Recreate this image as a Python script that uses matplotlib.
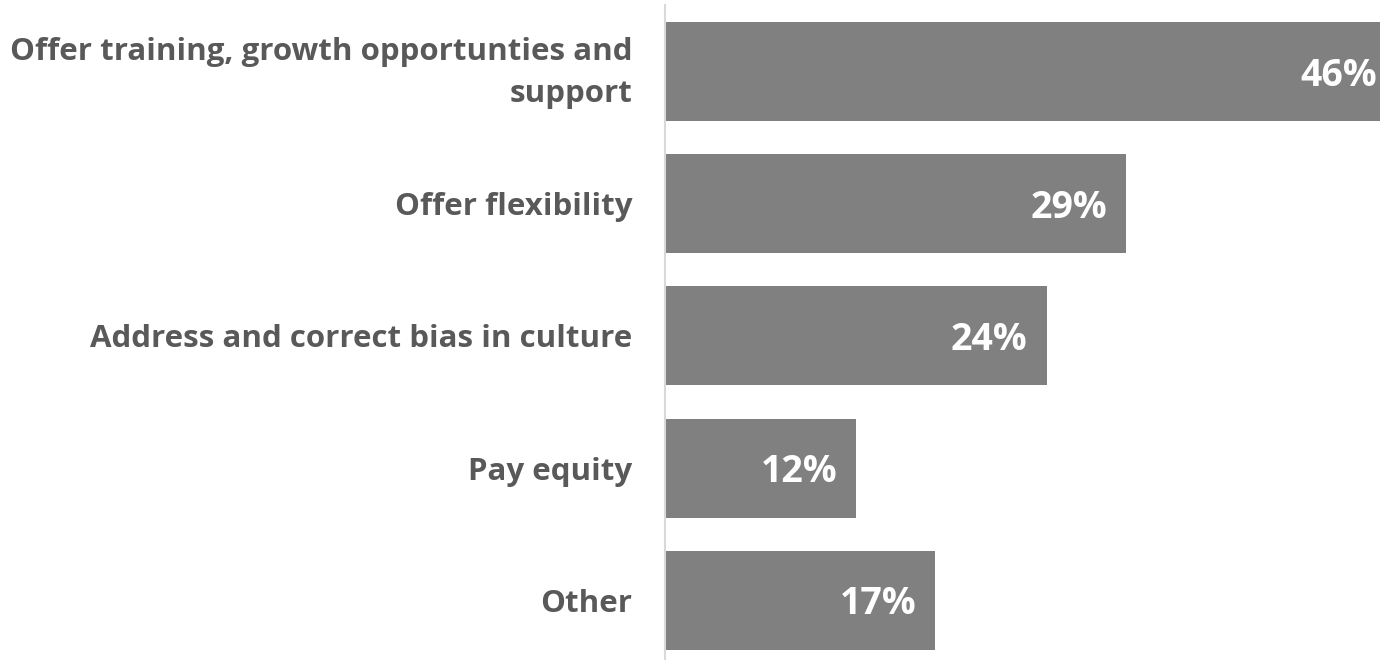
import matplotlib
matplotlib.use("Agg")
import matplotlib.pyplot as plt
from matplotlib.transforms import ScaledTranslation

categories = ["Offer training, growth opportunties and\nsupport",
              "Offer flexibility",
              "Address and correct bias in culture",
              "Pay equity",
              "Other"]
values = [46, 29, 24, 12, 17]
value_labels = ["46%", "29%", "24%", "12%", "17%"]

W, H = 1380, 660
fig = plt.figure(figsize=(W / 100, H / 100), dpi=100)
x0 = 665.4
ax = fig.add_axes([x0 / W, -6.4 / H, 1 - x0 / W, 661 / H])
fig.patch.set_facecolor("white")

pos = list(range(len(values)))
ax.barh(pos, values, height=0.75, color="#808080", edgecolor="none", zorder=2)
ax.set_xlim(0, 45.0)
ax.set_ylim(4.5, -0.5)

for p, v, lab in zip(pos, values, value_labels):
    ax.annotate(lab, xy=(v, p), xytext=(-19, -4), textcoords="offset pixels",
                ha="right", va="center", color="white", fontsize=27,
                fontweight="bold", family="Open Sans", annotation_clip=False)

ax.set_yticks(pos)
ax.set_yticklabels(categories, fontsize=22.5, fontweight="bold", color="#595959",
                   family="Open Sans", ha="right", multialignment="right",
                   linespacing=1.52)
ax.tick_params(axis="y", length=0, pad=24)
first = ax.get_yticklabels()[0]
first.set_transform(first.get_transform() + ScaledTranslation(0, 8 / 100, fig.dpi_scale_trans))
ax.set_xticks([])
for s in ["top", "right", "bottom"]:
    ax.spines[s].set_visible(False)
ax.spines["left"].set_color("#d9d9d9")
ax.spines["left"].set_linewidth(1.5)

fig.savefig("out.png", dpi=100)
